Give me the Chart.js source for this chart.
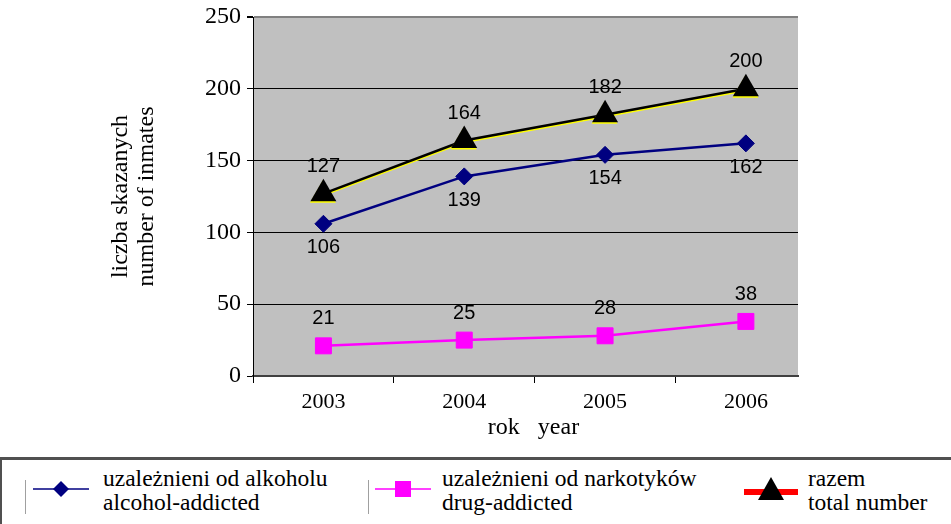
<!DOCTYPE html>
<html>
<head>
<meta charset="utf-8">
<script src="https://cdn.jsdelivr.net/npm/chart.js@4"></script>
<style>
  html, body { margin: 0; padding: 0; background: #fff; }
  #wrap { position: relative; width: 951px; height: 524px; overflow: hidden; }
  #chartBox { position: absolute; left: 0; top: 0; width: 951px; height: 457px; }
  #legend {
    position: absolute; left: 0; top: 457px; width: 960px; height: 80px;
    border-top: 3px solid #505050; border-left: 2px solid #505050; box-sizing: border-box;
    font-family: "Liberation Serif", "Times New Roman", serif; font-size: 23.5px; color: #000;
  }
  .sep { position: absolute; top: 20px; width: 1px; height: 34px; background: #a0a0a0; }
  .txt { position: absolute; top: 6px; line-height: 24px; white-space: nowrap; }
  .mk { position: absolute; top: 14px; }
</style>
</head>
<body>
<div id="wrap">
  <div id="chartBox"><canvas id="c" width="951" height="457"></canvas></div>
  <div id="legend">
    <div class="sep" style="left:23px"></div>
    <svg class="mk" style="left:29px" width="62" height="30">
      <line x1="2" y1="15" x2="58" y2="15" stroke="#4040a0" stroke-width="2"/>
      <polygon points="30,7 38,15 30,23 22,15" fill="#000080"/>
    </svg>
    <div class="txt" style="left:101px">uzależnieni od alkoholu<br>alcohol-addicted</div>

    <div class="sep" style="left:366px"></div>
    <svg class="mk" style="left:371px" width="62" height="30">
      <line x1="2" y1="15" x2="58" y2="15" stroke="#ff40ff" stroke-width="2"/>
      <rect x="22" y="7" width="16" height="16" fill="#ff00ff"/>
    </svg>
    <div class="txt" style="left:440px">uzależnieni od narkotyków<br>drug-addicted</div>

    <svg class="mk" style="left:739px;top:10px" width="62" height="34">
      <line x1="3" y1="22" x2="57" y2="22" stroke="#ff0000" stroke-width="6"/>
      <polygon points="30,7 43,30 17,30" fill="#000"/>
    </svg>
    <div class="txt" style="left:806px">razem<br>total number</div>
  </div>
</div>
<script>
// Years on the horizontal axis
const years = ['2003', '2004', '2005', '2006'];
// Number of inmates per year
const alcoholAddicted = [106, 139, 154, 162];
const drugAddicted = [21, 25, 28, 38];
const totalNumber = [127, 164, 182, 200];
// Vertical axis ticks
const yTicks = [0, 50, 100, 150, 200, 250];
// Axis captions
const xTitle = 'rok   year';
const yTitle = ['liczba skazanych', 'number of inmates'];

const serif = '"Liberation Serif", "Times New Roman", serif';
const toPoints = arr => arr.map((v, i) => ({ x: i, y: v }));

// Grey plot background
const plotBackground = {
  id: 'plotBackground',
  beforeDraw(chart) {
    const { ctx, chartArea: a } = chart;
    ctx.save();
    ctx.fillStyle = '#c0c0c0';
    ctx.fillRect(a.left, a.top, a.right - a.left, a.bottom - a.top);
    ctx.restore();
  }
};

// Yellow offset shadow under the total line
const totalShadow = {
  id: 'totalShadow',
  beforeDatasetDraw(chart, args) {
    if (args.index !== 2) return;
    const ctx = chart.ctx;
    ctx.save();
    ctx.shadowColor = '#ffff00';
    ctx.shadowOffsetX = -0.5;
    ctx.shadowOffsetY = 1.5;
    ctx.shadowBlur = 0;
  },
  afterDatasetDraw(chart, args) {
    if (args.index !== 2) return;
    chart.ctx.restore();
  }
};

// Value labels next to every point
const valueLabels = {
  id: 'valueLabels',
  afterDatasetsDraw(chart) {
    const ctx = chart.ctx;
    ctx.save();
    ctx.font = '20px "Liberation Sans", Arial, sans-serif';
    ctx.fillStyle = '#000';
    ctx.textAlign = 'center';
    ctx.textBaseline = 'middle';
    chart.data.datasets.forEach((ds, di) => {
      const meta = chart.getDatasetMeta(di);
      meta.data.forEach((pt, i) => {
        ctx.fillText(String(ds.data[i].y), pt.x, pt.y + ds.labelOffset);
      });
    });
    ctx.restore();
  }
};

// Horizontal axis caption under the year labels
const xCaption = {
  id: 'xCaption',
  afterDraw(chart) {
    const ctx = chart.ctx;
    const a = chart.chartArea;
    ctx.save();
    ctx.font = '24px ' + serif;
    ctx.fillStyle = '#000';
    ctx.textAlign = 'center';
    ctx.textBaseline = 'middle';
    ctx.fillText(xTitle, (a.left + a.right) / 2 + 8, a.bottom + 52);
    ctx.restore();
  }
};

new Chart(document.getElementById('c'), {
  type: 'line',
  data: {
    datasets: [
      {
        label: 'uzależnieni od alkoholu',
        data: toPoints(alcoholAddicted),
        borderColor: '#000080',
        backgroundColor: '#000080',
        borderWidth: 2.5,
        pointStyle: 'rectRot',
        pointRadius: 8.5,
        pointBorderWidth: 1,
        labelOffset: 24
      },
      {
        label: 'uzależnieni od narkotyków',
        data: toPoints(drugAddicted),
        borderColor: '#ff00ff',
        backgroundColor: '#ff00ff',
        borderWidth: 2.5,
        pointStyle: 'rect',
        pointRadius: 11.3,
        pointBorderWidth: 1,
        labelOffset: -27
      },
      {
        label: 'razem',
        data: toPoints(totalNumber),
        borderColor: '#000000',
        backgroundColor: '#000000',
        borderWidth: 2.5,
        pointStyle: 'triangle',
        pointRadius: 15,
        pointBorderWidth: 0,
        labelOffset: -27
      }
    ]
  },
  options: {
    responsive: false,
    animation: false,
    layout: { padding: { top: 17, right: 153, left: 0, bottom: 0 } },
    plugins: { legend: { display: false }, tooltip: { enabled: false } },
    elements: { line: { tension: 0 } },
    scales: {
      x: {
        type: 'linear',
        min: -0.5,
        max: 3.37,
        afterBuildTicks(scale) {
          scale.ticks = [-0.5, 0, 0.5, 1, 1.5, 2, 2.5, 3].map(v => ({ value: v }));
        },
        afterFit(scale) {
          scale.height = 81;
          scale.paddingLeft = 0;
          scale.paddingRight = 0;
        },
        ticks: {
          autoSkip: false,
          maxRotation: 0,
          padding: 6,
          color: '#000',
          font: { family: serif, size: 22 },
          callback: v => (Number.isInteger(v) ? years[v] : '')
        },
        grid: {
          drawOnChartArea: false,
          tickLength: 7,
          tickColor: ctx => (ctx.tick && Number.isInteger(ctx.tick.value) ? 'rgba(0,0,0,0)' : '#000')
        },
        border: { display: true, color: '#404040', width: 2 }
      },
      y: {
        min: 0,
        max: 250,
        afterBuildTicks(scale) {
          scale.ticks = yTicks.map(v => ({ value: v }));
        },
        afterFit(scale) {
          scale.width = 253;
          scale.paddingTop = 0;
          scale.paddingBottom = 0;
        },
        ticks: {
          padding: 6,
          color: '#000',
          font: { family: serif, size: 24 }
        },
        grid: {
          color: ctx => (ctx.tick && ctx.tick.value === 250 ? '#808080' : '#000'),
          lineWidth: ctx => (ctx.tick && ctx.tick.value === 250 ? 2 : 1),
          tickLength: 6,
          tickColor: '#000'
        },
        border: { display: true, color: '#000', width: 1 },
        title: {
          display: true,
          text: yTitle,
          color: '#000',
          font: { family: serif, size: 24, lineHeight: '26px' },
          padding: { top: 108, bottom: 0 }
        }
      }
    }
  },
  plugins: [plotBackground, totalShadow, valueLabels, xCaption]
});
</script>
</body>
</html>
